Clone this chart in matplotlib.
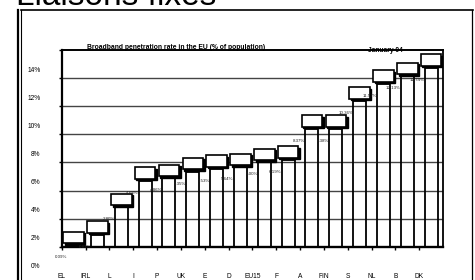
import matplotlib
matplotlib.use("Agg")
import matplotlib.pyplot as plt
from matplotlib.patches import Rectangle
from matplotlib.lines import Line2D

# data (% of population, January 2004)
countries = ["EL", "IRL", "L", "I", "P", "UK", "E", "D", "EU15", "F", "A", "FIN", "S", "NL", "B", "DK"]
penetration = [0.09, 0.83, 2.80, 4.68, 4.86, 5.35, 5.53, 5.64, 6.00, 6.19, 8.37, 8.38, 10.36, 11.57, 12.13, 12.74]
y_ticks = [0, 2, 4, 6, 8, 10, 12, 14]
y_tick_labels = ["0%", "2%", "4%", "6%", "8%", "10%", "12%", "14%"]
chart_title = "Broadband penetration rate in the EU (% of population)"
period = "January 04"
slide_title = "Liaisons fixes"

W, H = 475, 280
plt.rcParams['font.family'] = ['Liberation Sans', 'DejaVu Sans']

fig = plt.figure(figsize=(W / 100, H / 100), dpi=100)
fig.patch.set_facecolor('white')


def fx(px):
    return px / W


def fy(py):
    return 1 - py / H


# plot area in pixels
x0, x1, y_bot, y_top = 61.7, 443, 246.7, 50
ax = fig.add_axes([fx(x0), fy(y_bot), fx(x1) - fx(x0), fy(y_top) - fy(y_bot)])
n = len(countries)
ax.set_xlim(0, n)
ax.set_ylim(0, 14)
ppx = (x1 - x0) / n      # pixels per x unit
ppy = (y_bot - y_top) / 14  # pixels per y unit

for t in y_ticks[1:-1]:
    ax.axhline(t, color='#444444', lw=1.0, zorder=1)

for s, w in zip(['left', 'bottom', 'top', 'right'], [1.6, 1.7, 1.4, 1.3]):
    ax.spines[s].set_linewidth(w)
    ax.spines[s].set_color('black')
ax.set_xticks(range(n))
ax.set_yticks(y_ticks)
ax.tick_params(axis='x', direction='out', length=2.5, width=1, labelbottom=False)
ax.tick_params(axis='y', direction='out', length=2, width=1, labelleft=False)

body_w = 0.55
cap_w = 0.86
cap_h = 11.5 / ppy
cap_gap = 2.2 / ppy
sh_x, sh_y = 1.5 / ppx, 1.5 / ppy

for i, v in enumerate(penetration):
    c = i + 0.5
    ax.add_patch(Rectangle((c - body_w / 2, 0), body_w, v, facecolor='none',
                           edgecolor='black', lw=1.3, zorder=2))
    cb = v + cap_gap
    ax.add_patch(Rectangle((c - cap_w / 2 + sh_x, cb - sh_y), cap_w, cap_h,
                           facecolor='black', edgecolor='black', lw=1.0, zorder=3))
    ax.add_patch(Rectangle((c - cap_w / 2, cb), cap_w, cap_h, facecolor='white',
                           edgecolor='black', lw=1.2, zorder=4))
    ax.text(c - body_w / 2, v - 12 / ppy, f"{v:.2f}%", ha='right', va='center',
            fontsize=3.2, color='#222222', zorder=5, clip_on=False)
    ax.text(i, -29.3 / ppy, countries[i], ha='center', va='center',
            fontsize=4.8, clip_on=False)

for t, lab in zip(y_ticks, y_tick_labels):
    ax.text((40.5 - x0) / ppx, t - 20 / ppy, lab, ha='right', va='center',
            fontsize=4.8, clip_on=False)

ax.text((176 - x0) / ppx, (y_bot - 47.3) / ppy, chart_title, ha='center',
        va='center', fontsize=4.9, fontweight='bold', clip_on=False, zorder=6)
ax.text((385 - x0) / ppx, (y_bot - 51) / ppy, period, ha='center',
        va='center', fontsize=4.8, fontweight='bold', clip_on=False, zorder=6)

# slide frame
fig.add_artist(Line2D([fx(20.5), fx(472.5)], [fy(10), fy(10)], color='black', lw=1.2))
fig.add_artist(Line2D([fx(472), fx(472)], [fy(10), fy(280)], color='black', lw=0.9))
fig.add_artist(Line2D([fx(18.3), fx(18.3)], [fy(10), fy(280)], color='black', lw=1.6))
fig.add_artist(Line2D([fx(21.4), fx(21.4)], [fy(10), fy(280)], color='black', lw=0.8))

# slide heading, cut off by the top edge as in the original
fig.text(fx(16), fy(5), slide_title, fontsize=24, va='baseline', ha='left')

fig.savefig("out.png", dpi=100)
